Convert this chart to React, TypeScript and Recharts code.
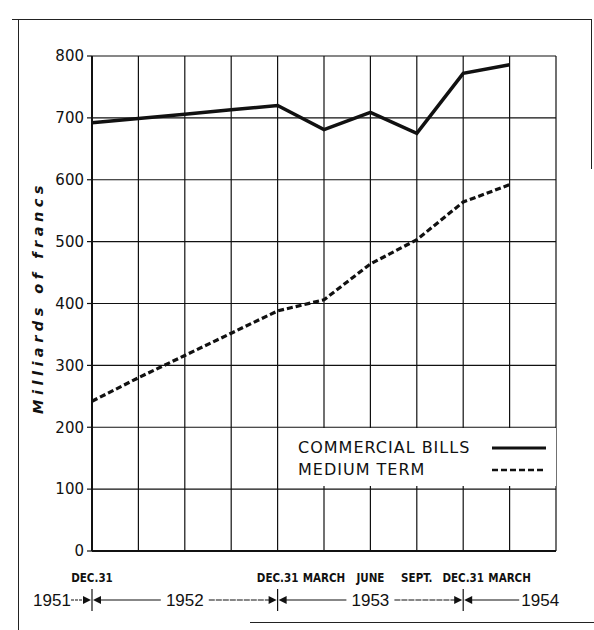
import { CartesianGrid, Label, Legend, Line, LineChart, XAxis, YAxis } from "recharts"

const quarters = [
  "Dec 1951", "Mar 1952", "Jun 1952", "Sep 1952", "Dec 1952", "Mar 1953",
  "Jun 1953", "Sep 1953", "Dec 1953", "Mar 1954", "Jun 1954",
]
const monthLabels = ["DEC.31", "", "", "", "DEC.31", "MARCH", "JUNE", "SEPT.", "DEC.31", "MARCH", ""]
const commercialBills = [692, 699, 706, 713, 720, 681, 709, 675, 772, 786, null]
const mediumTerm = [242, 280, 316, 352, 388, 406, 464, 503, 564, 592, null]
const yTicks = [0, 100, 200, 300, 400, 500, 600, 700, 800]
const years = ["1951", "1952", "1953", "1954"]
// quarter index where one year closes (Dec. 31)
const yearBreaks = [0, 4, 8]

const data = quarters.map((q, i) => ({
  q,
  commercial: commercialBills[i],
  medium: mediumTerm[i],
}))

const PLOT_LEFT = 92
const PLOT_RIGHT = 556
const STEP = (PLOT_RIGHT - PLOT_LEFT) / (quarters.length - 1)
const INK = "#111"

const Arrow = ({ x, y, dir }: { x: number; y: number; dir: 1 | -1 }) => (
  <polygon points={`${x - dir * 9},${y - 4} ${x - dir},${y} ${x - dir * 9},${y + 4}`} fill={INK} stroke="none" />
)

const YearText = ({ x, y, children }: { x: number; y: number; children: string }) => (
  <text
    x={x}
    y={y + 6}
    textAnchor="middle"
    fontFamily="'Liberation Sans', Arial, sans-serif"
    fontSize={17}
    fill={INK}
    stroke="none"
  >
    {children}
  </text>
)

const QuarterTick = (props: any) => {
  const { x, y, index } = props
  const label = monthLabels[index]
  const b = yearBreaks.indexOf(index)
  const ty = y + 49
  let timeline: JSX.Element | null = null
  if (b >= 0) {
    const nextBreak = yearBreaks[b + 1]
    const endX = nextBreak !== undefined ? x + (nextBreak - index) * STEP : null
    timeline = (
      <g stroke={INK} strokeWidth={1.2}>
        <line x1={x} y1={ty - 11} x2={x} y2={ty + 11} />
        <Arrow x={x} y={ty} dir={1} />
        <Arrow x={x} y={ty} dir={-1} />
        {b === 0 && (
          <>
            <YearText x={x - 40} y={ty}>{years[0]}</YearText>
            <line x1={x - 21} y1={ty} x2={x - 8} y2={ty} strokeDasharray="3 1" />
          </>
        )}
        {endX !== null ? (
          <>
            <line x1={x + 8} y1={ty} x2={(x + endX) / 2 - 24} y2={ty} />
            <YearText x={(x + endX) / 2} y={ty}>{years[b + 1]}</YearText>
            <line x1={(x + endX) / 2 + 24} y1={ty} x2={endX - 8} y2={ty} strokeDasharray="6 1" />
          </>
        ) : (
          <>
            <line x1={x + 8} y1={ty} x2={x + 56} y2={ty} />
            <YearText x={x + 77} y={ty}>{years[b + 1]}</YearText>
          </>
        )}
      </g>
    )
  }
  return (
    <g>
      {label && (
        <text
          x={x}
          y={y + 31}
          textAnchor="middle"
          fontFamily="'Liberation Sans Narrow', 'DejaVu Sans Condensed', 'Liberation Sans', sans-serif"
          fontWeight="bold"
          fontSize={11.5}
          fill={INK}
        >
          {label}
        </text>
      )}
      {timeline}
    </g>
  )
}

const YLabel = (props: any) => {
  const vb = props.viewBox || {}
  const cy = (vb.y ?? 56) + (vb.height ?? 495) / 2 - 6
  return (
    <text
      x={38}
      y={cy}
      transform={`rotate(-90, 38, ${cy})`}
      textAnchor="middle"
      dominantBaseline="central"
      fontFamily="'DejaVu Sans', sans-serif"
      fontStyle="italic"
      fontWeight="bold"
      fontSize={14.5}
      letterSpacing={4.5}
      fill={INK}
    >
      Milliards of francs
    </text>
  )
}

const LegendBox = (props: any) => {
  const items = props.payload || []
  return (
    <div
      style={{
        background: "#fff",
        width: 266,
        height: 58,
        boxSizing: "border-box",
        padding: "9px 0 0 8px",
        fontFamily: "'DejaVu Sans', sans-serif",
        fontSize: 16,
        letterSpacing: 1,
        lineHeight: "22px",
        color: INK,
      }}
    >
      {items.map((it: any) => (
        <div key={it.value} style={{ display: "flex", alignItems: "center" }}>
          <span style={{ width: 194 }}>{it.value}</span>
          <svg width={54} height={6}>
            <line
              x1={0}
              y1={3}
              x2={54}
              y2={3}
              stroke={INK}
              strokeWidth={it.dataKey === "medium" ? 2.5 : 3}
              strokeDasharray={it.dataKey === "medium" ? "6 3" : undefined}
            />
          </svg>
        </div>
      ))}
    </div>
  )
}

const Frame = () => (
  <>
    <div style={{ position: "absolute", left: 12, top: 19, width: 580, height: 0, borderTop: "1.5px solid #222" }} />
    <div style={{ position: "absolute", left: 18, top: 19, width: 0, height: 611, borderLeft: "1.5px solid #222" }} />
    <div style={{ position: "absolute", left: 591, top: 19, width: 0, height: 150, borderLeft: "1.5px solid #222" }} />
    <div style={{ position: "absolute", left: 250, top: 622, width: 344, height: 0, borderTop: "1.5px solid #222" }} />
  </>
)

export default function App() {
  return (
    <div style={{ position: "absolute", left: 0, top: 0, width: 594, height: 630, background: "#fff" }}>
      <Frame />
      <LineChart
        width={594}
        height={630}
        data={data}
        margin={{ top: 56, right: 594 - PLOT_RIGHT, bottom: 9, left: 0 }}
      >
        <CartesianGrid stroke={INK} strokeWidth={1.2} />
        <XAxis
          dataKey="q"
          interval={0}
          height={70}
          axisLine={{ stroke: INK, strokeWidth: 2 }}
          tickLine={false}
          tickSize={0}
          tickMargin={0}
          tick={<QuarterTick />}
        />
        <YAxis
          domain={[0, 800]}
          ticks={yTicks}
          width={PLOT_LEFT}
          interval={0}
          axisLine={{ stroke: INK, strokeWidth: 2 }}
          tickLine={{ stroke: INK, strokeWidth: 1.2 }}
          tickSize={5}
          tickMargin={3}
          tick={{ fill: INK, fontSize: 15, fontFamily: "'DejaVu Sans', sans-serif" }}
        >
          <Label content={<YLabel />} />
        </YAxis>
        <Legend
          layout="horizontal"
          verticalAlign="middle"
          align="center"
          content={<LegendBox />}
          wrapperStyle={{ left: 290, top: 428, width: 266, height: 58 }}
        />
        <Line
          dataKey="commercial"
          name="COMMERCIAL BILLS"
          stroke={INK}
          strokeWidth={3.5}
          dot={false}
          isAnimationActive={false}
        />
        <Line
          dataKey="medium"
          name="MEDIUM TERM"
          stroke={INK}
          strokeWidth={3.2}
          strokeDasharray="6 3"
          dot={false}
          isAnimationActive={false}
        />
      </LineChart>
    </div>
  )
}
